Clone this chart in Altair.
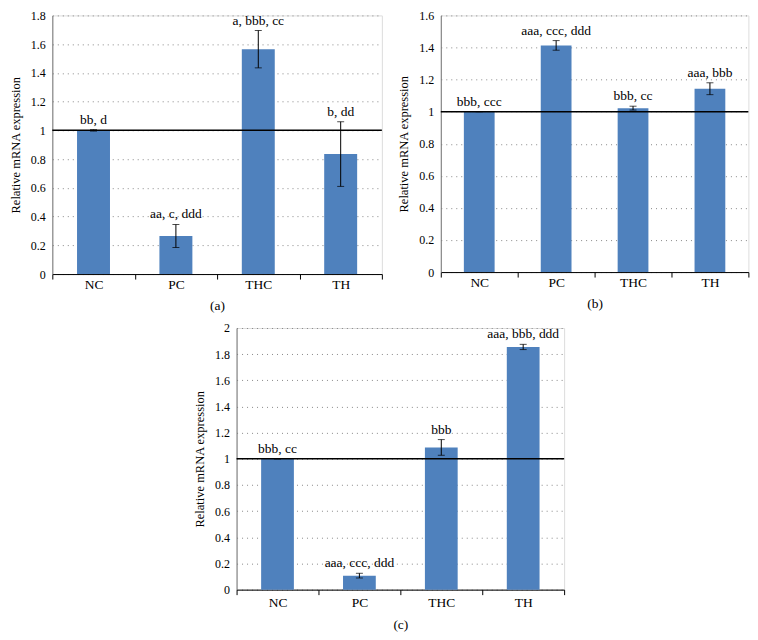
import altair as alt
import pandas as pd

groups = ["NC", "PC", "THC", "TH"]

a_means = [1.0, 0.265, 1.565, 0.835]
a_err = [0.005, 0.08, 0.13, 0.225]
a_labels = ["bb, d", "aa, c, ddd", "a, bbb, cc", "b, dd"]

b_means = [1.0, 1.413, 1.022, 1.143]
b_err = [0.0, 0.03, 0.012, 0.037]
b_labels = ["bbb, ccc", "aaa, ccc, ddd", "bbb, cc", "aaa, bbb"]

c_means = [1.0, 0.107, 1.087, 1.855]
c_err = [0.0, 0.018, 0.06, 0.02]
c_labels = ["bbb, cc", "aaa, ccc, ddd", "bbb", "aaa, bbb, ddd"]

a_ticks = [0, 0.2, 0.4, 0.6, 0.8, 1, 1.2, 1.4, 1.6, 1.8]
b_ticks = [0, 0.2, 0.4, 0.6, 0.8, 1, 1.2, 1.4, 1.6]
c_ticks = [0, 0.2, 0.4, 0.6, 0.8, 1, 1.2, 1.4, 1.6, 1.8, 2]

FONT = "Liberation Serif"
BAR = "#4F81BD"


def panel(means, errs, labels, ticks, tag, width, height, lab_pad):
    df = pd.DataFrame({
        "group": groups,
        "mean": means,
        "lo": [m - e for m, e in zip(means, errs)],
        "hi": [m + e for m, e in zip(means, errs)],
        "label": labels,
    })
    xs = alt.Scale(paddingInner=0, paddingOuter=0)
    xaxis = alt.Axis(
        title=tag, labelAngle=0, tickBand="extent", ticks=True, tickSize=5,
        tickColor="#000", domainColor="#000", labelFontSize=13.5,
        labelPadding=lab_pad, titleFontSize=13.5, titleFontWeight="normal",
        titlePadding=8, labelFont=FONT, titleFont=FONT, grid=False,
        labelColor="#000", titleColor="#000",
    )
    xpos = alt.X("group:N", sort=groups, scale=xs, axis=xaxis)
    yscale = alt.Scale(domain=[0, ticks[-1]], nice=False, zero=True)
    yaxis = alt.Axis(
        title="Relative mRNA expression",
        values=ticks, format="~g", ticks=False, labelPadding=7, domainColor="#777",
        labelOverlap=False, labelSeparation=0,
        grid=True, gridColor="#888", gridDash=[1, 4], gridWidth=1,
        labelFontSize=12, titleFontSize=12.5, titleFontWeight="normal",
        titlePadding=8, labelFont=FONT, titleFont=FONT,
        labelColor="#000", titleColor="#000",
    )

    def Y(field, ax=None):
        if ax is None:
            return alt.Y(field, scale=yscale, axis=None)
        return alt.Y(field, scale=yscale, axis=ax)

    base = alt.Chart(df)
    bars = base.mark_bar(color=BAR, width={"band": 0.4}).encode(
        x=xpos, y=Y("mean:Q", yaxis)
    )
    rule = base.mark_rule(color="#000", strokeWidth=1).encode(
        x=xpos, y=Y("lo:Q"), y2="hi:Q"
    )
    cap_hi = base.mark_tick(color="#000", thickness=1, size=7, orient="horizontal").encode(
        x=xpos, y=Y("hi:Q")
    )
    cap_lo = base.mark_tick(color="#000", thickness=1, size=7, orient="horizontal").encode(
        x=xpos, y=Y("lo:Q")
    )
    text = base.mark_text(
        font=FONT, fontSize=13.5, baseline="alphabetic", dy=-6, color="#000"
    ).encode(x=xpos, y=Y("hi:Q"), text="label:N")
    ref = alt.Chart(pd.DataFrame({"r": [1.0]})).mark_rule(
        color="#000", strokeWidth=1.5
    ).encode(y=Y("r:Q"))
    return alt.layer(bars, rule, cap_hi, cap_lo, ref, text).resolve_axis(
        y="independent"
    ).properties(width=width, height=height)


pa = panel(a_means, a_err, a_labels, a_ticks, "(a)", 330, 259, -2)
pb = panel(b_means, b_err, b_labels, b_ticks, "(b)", 308, 257, -2)
pc = panel(c_means, c_err, c_labels, c_ticks, "(c)", 328, 262, 1)

top = alt.hconcat(pa, pb, spacing=13)
chart = alt.vconcat(top, pc, spacing=8, center=True).properties(
    padding={"left": 0, "top": 0, "right": 0, "bottom": 0}
).configure_view(stroke="transparent").configure(background="white")

chart.save("out.html", embed_options={"renderer": "svg", "actions": False})
